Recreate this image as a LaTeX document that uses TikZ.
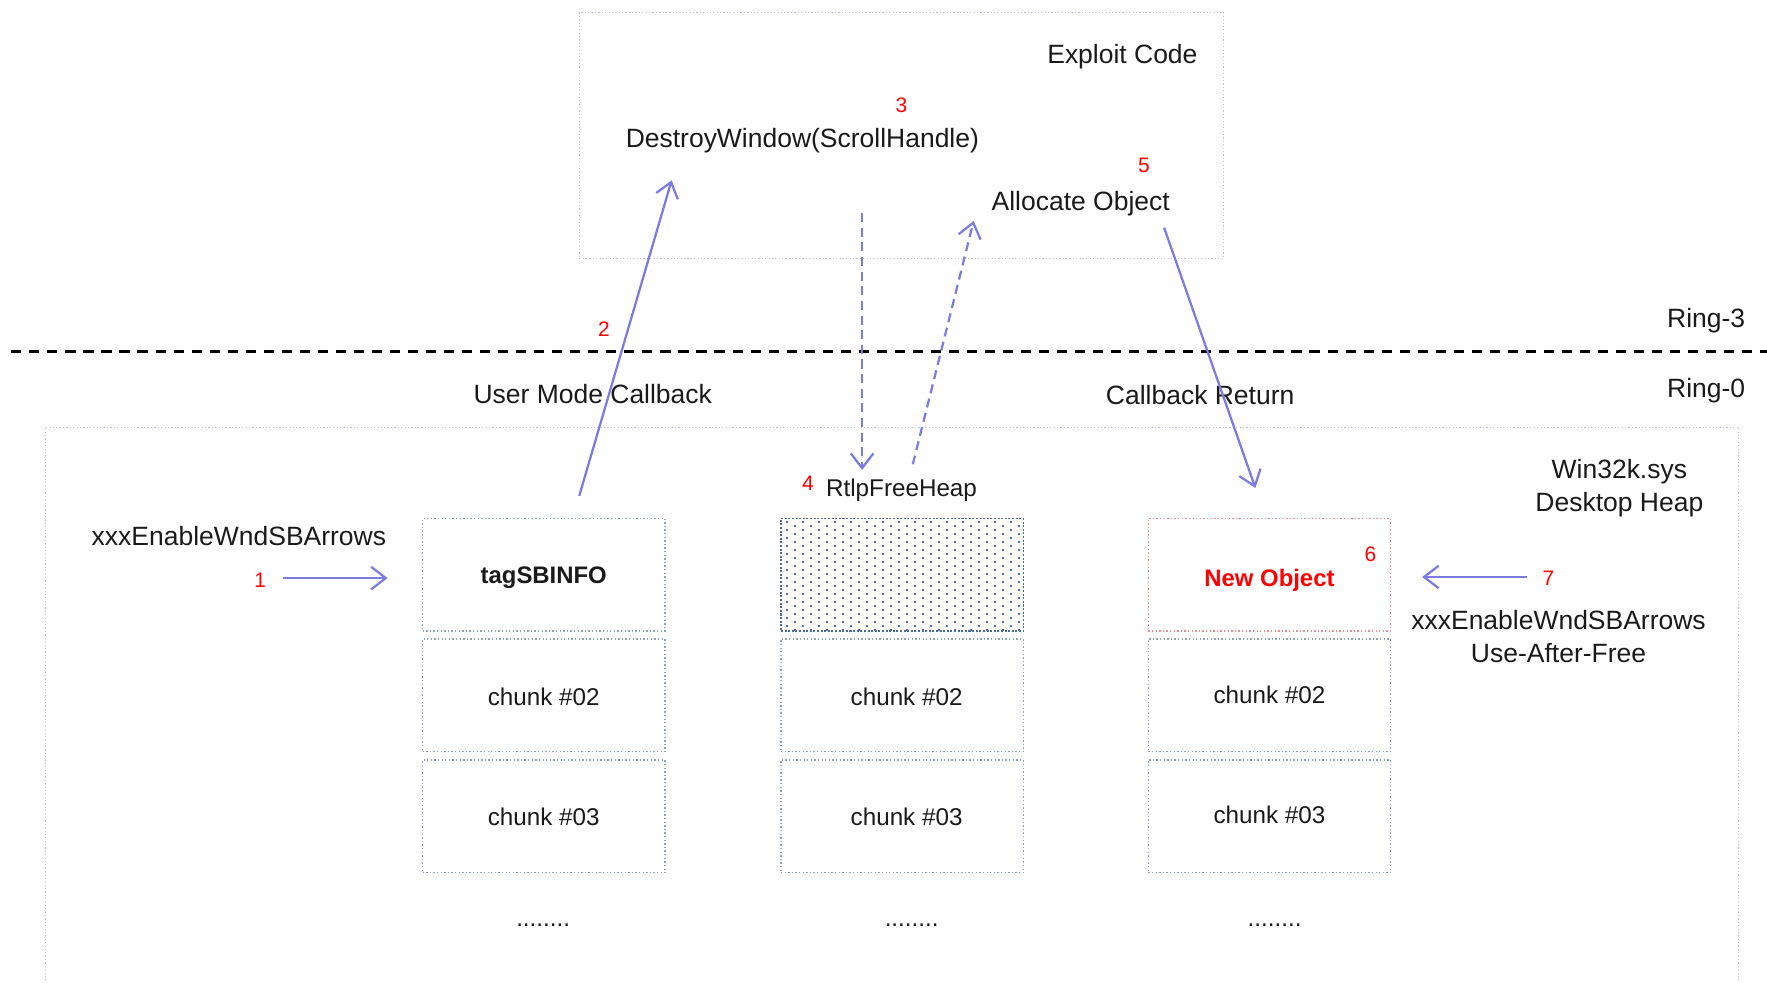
\documentclass[tikz,border=0pt]{standalone}
\usepackage{fontspec}
\setmainfont{Liberation Sans}
\usetikzlibrary{arrows.meta}
\definecolor{ink}{HTML}{1A1A1A}
\definecolor{flow}{HTML}{7B7BE3}
\definecolor{framec}{HTML}{B8C4D8}
\definecolor{cellc}{HTML}{8FA0BE}
\definecolor{freec}{HTML}{4A6A9C}
\definecolor{dotc}{HTML}{4472C4}
\definecolor{hot}{HTML}{FF0000}
\definecolor{hotframe}{HTML}{F28A8A}

\begin{document}
\begin{tikzpicture}[x=0.5pt, y=-0.5pt,
  txt/.style={text=ink, font=\fontsize{11.75pt}{14.75pt}\selectfont, inner sep=0pt, align=center},
  small/.style={text=ink, font=\fontsize{10.75pt}{13pt}\selectfont, inner sep=0pt},
  num/.style={text=hot, font=\fontsize{9.3pt}{11pt}\selectfont, inner sep=0pt},
  frame/.style={draw=framec, densely dotted, line width=0.5pt, inner sep=0pt},
  cell/.style={draw=cellc, densely dotted, line width=0.6pt, minimum width=107.5pt,
    minimum height=50pt, inner sep=0pt},
  celltext/.style={text=ink, font=\fontsize{10.75pt}{13pt}\selectfont, inner sep=0pt},
  headtext/.style={celltext, font=\fontsize{10.6pt}{13pt}\selectfont\bfseries},
  flowline/.style={draw=flow, line width=1pt, -{Straight Barb[length=6.5pt, width=10pt, line width=1pt]}},
  flowdash/.style={flowline, dash pattern=on 4pt off 2.5pt}]

\useasboundingbox (0,0) rectangle (1568,872);

% user-mode frame
\node[frame, minimum width=286pt, minimum height=109pt] (exploit) at (800,120) {};
\node[txt] (exploitlbl) at (996,50.5) {Exploit Code};
\node[num] (n3) at (800,93) {3};
\node[txt] (destroy) at (712,124.5) {DestroyWindow(ScrollHandle)};
\node[num] (n5) at (1015,147) {5};
\node[txt] (alloc) at (959,180.5) {Allocate Object};

% ring boundary
\coordinate (sepL) at (10,312);
\coordinate (sepR) at (1568,312);
\draw[black, line width=1.1pt, dash pattern=on 4.5pt off 3.5pt] (sepL) -- (sepR);
\node[txt] (ring3) at (1514,284.5) {Ring-3};
\node[txt] (ring0) at (1514,346.5) {Ring-0};
\node[txt] (umcb) at (526,349.5) {User Mode Callback};
\node[txt] (cbret) at (1065,350.5) {Callback Return};

% kernel-mode frame (runs past the lower edge)
\node[frame, minimum width=751.5pt, minimum height=262pt] (heap) at (791.5,641) {};
\node[txt] (heaplbl) at (1437,433.5) {Win32k.sys\\Desktop Heap};

% freed chunk fill
\foreach \i in {0,...,27} {
  \foreach \j in {0,...,14} {
    \fill[dotc] ({697.5+14.2*\j+mod(\i,2)*7.1}, {462.3+3.55*\i}) rectangle +(1.8,1.8);
  }
}

% heap chunks
\node[cell, label={[headtext, yshift=-1.1pt]center:tagSBINFO}] (c1a) at (482.5,510) {};
\node[cell, label={[celltext, yshift=-0.5pt]center:chunk \#02}] (c1b) at (482.5,617) {};
\node[cell, label={[celltext, yshift=-0.3pt]center:chunk \#03}] (c1c) at (482.5,724.5) {};
\node[small, anchor=base] (d1) at (482,822) {........};

\node[cell, draw=freec, dash pattern=on 0.9pt off 0.7pt] (c2a) at (800.5,510) {};
\node[cell, label={[celltext, xshift=2pt, yshift=-0.5pt]center:chunk \#02}] (c2b) at (800.5,617) {};
\node[cell, label={[celltext, xshift=2pt, yshift=-0.3pt]center:chunk \#03}] (c2c) at (800.5,724.5) {};
\node[small, anchor=base] (d2) at (809,822) {........};

\node[cell, draw=hotframe, label={[headtext, text=hot, yshift=-2.6pt]center:New Object}] (c3a) at (1126.5,510) {};
\node[cell, label={[celltext, yshift=0.3pt]center:chunk \#02}] (c3b) at (1126.5,617) {};
\node[cell, label={[celltext, yshift=0.5pt]center:chunk \#03}] (c3c) at (1126.5,724.5) {};
\node[small, anchor=base] (d3) at (1131,822) {........};

% labels
\node[txt] (enter) at (212,476) {xxxEnableWndSBArrows};
\node[num] (n1) at (231,515) {1};
\node[num] (n2) at (536,292) {2};
\node[num] (n4) at (717,429) {4};
\node[small] (rtlp) at (800,435) {RtlpFreeHeap};
\node[num] (n6) at (1216,492) {6};
\node[num] (n7) at (1374,513) {7};
\node[txt] (uaf) at (1383,565) {xxxEnableWndSBArrows\\Use-After-Free};

% flow
\coordinate (a1s) at (251,513);
\coordinate (a1e) at (344,513);
\draw[flowline] (a1s) -- (a1e);

\coordinate (a2s) at (514,440);
\coordinate (a2e) at (596,160);
\draw[flowline] (a2s) -- (a2e);

\coordinate (a3s) at (765,189);
\coordinate (a3e) at (765,417);
\draw[flowdash] (a3s) -- (a3e);

\coordinate (a4s) at (810,412);
\coordinate (a4e) at (864,196);
\draw[flowdash] (a4s) -- (a4e);

\coordinate (a5s) at (1033,202);
\coordinate (a5e) at (1114,433);
\draw[flowline] (a5s) -- (a5e);

\coordinate (a7s) at (1355,512);
\coordinate (a7e) at (1262,512);
\draw[flowline] (a7s) -- (a7e);
\end{tikzpicture}
\end{document}
